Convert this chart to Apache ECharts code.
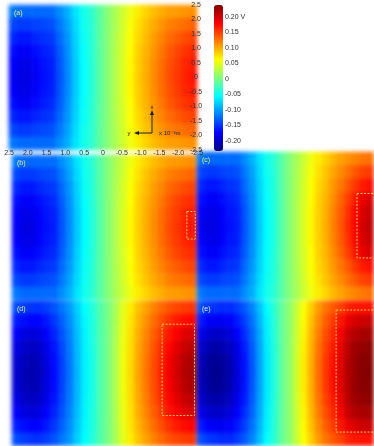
<!DOCTYPE html>
<html>
<head>
<meta charset="utf-8">
<script src="https://cdn.jsdelivr.net/npm/echarts@6/dist/echarts.min.js"></script>
<style>
  html, body { margin: 0; padding: 0; background: #fff; overflow: hidden; }
  .layer { position: absolute; left: 0; top: 0; width: 374px; height: 446px; }
  /* soften the cell edges of the potential maps */
  #field canvas { filter: blur(2.2px); }
</style>
</head>
<body>
<div id="field" class="layer"></div>
<div id="chart" class="layer"></div>
<script>
// potential (V), rows top -> bottom, 24 columns left -> right
const panelA = [
  [-0.118,-0.125,-0.125,-0.125,-0.124,-0.123,-0.108,-0.092,-0.068,-0.048,-0.035,-0.014,0.005,0.022,0.039,0.055,0.071,0.082,0.092,0.100,0.107,0.109,0.111,0.114],
  [-0.140,-0.147,-0.147,-0.143,-0.140,-0.136,-0.118,-0.098,-0.072,-0.050,-0.037,-0.014,0.005,0.023,0.041,0.059,0.076,0.089,0.101,0.111,0.121,0.126,0.130,0.134],
  [-0.155,-0.164,-0.164,-0.157,-0.151,-0.147,-0.125,-0.103,-0.076,-0.052,-0.038,-0.014,0.005,0.024,0.043,0.061,0.080,0.093,0.107,0.119,0.131,0.138,0.145,0.150],
  [-0.167,-0.176,-0.176,-0.168,-0.160,-0.154,-0.131,-0.107,-0.078,-0.054,-0.039,-0.015,0.005,0.025,0.044,0.063,0.083,0.097,0.111,0.125,0.139,0.148,0.156,0.161],
  [-0.175,-0.183,-0.183,-0.175,-0.165,-0.159,-0.134,-0.109,-0.080,-0.055,-0.040,-0.015,0.005,0.025,0.045,0.065,0.084,0.099,0.114,0.129,0.143,0.153,0.163,0.168],
  [-0.177,-0.186,-0.186,-0.177,-0.167,-0.160,-0.135,-0.110,-0.080,-0.055,-0.040,-0.015,0.005,0.025,0.045,0.065,0.085,0.100,0.115,0.130,0.145,0.155,0.165,0.172],
  [-0.175,-0.183,-0.183,-0.175,-0.165,-0.159,-0.134,-0.109,-0.080,-0.055,-0.040,-0.015,0.005,0.025,0.045,0.065,0.084,0.099,0.114,0.129,0.143,0.153,0.163,0.168],
  [-0.167,-0.176,-0.176,-0.168,-0.160,-0.154,-0.131,-0.107,-0.078,-0.054,-0.039,-0.015,0.005,0.025,0.044,0.063,0.083,0.097,0.111,0.125,0.139,0.148,0.156,0.161],
  [-0.155,-0.164,-0.164,-0.157,-0.151,-0.147,-0.125,-0.103,-0.076,-0.052,-0.038,-0.014,0.005,0.024,0.043,0.061,0.080,0.093,0.107,0.119,0.131,0.138,0.145,0.150],
  [-0.140,-0.147,-0.147,-0.143,-0.140,-0.136,-0.118,-0.098,-0.072,-0.050,-0.037,-0.014,0.005,0.023,0.041,0.059,0.076,0.089,0.101,0.111,0.121,0.126,0.130,0.134],
  [-0.118,-0.125,-0.125,-0.125,-0.124,-0.123,-0.108,-0.092,-0.068,-0.048,-0.035,-0.014,0.005,0.022,0.039,0.055,0.071,0.082,0.092,0.100,0.107,0.109,0.111,0.114]
];

// (b) reads the same as (a)
const panelB = panelA;

const panelC = [
  [-0.118,-0.125,-0.125,-0.125,-0.124,-0.123,-0.108,-0.092,-0.068,-0.048,-0.035,-0.014,0.005,0.022,0.039,0.055,0.071,0.082,0.095,0.105,0.113,0.120,0.125,0.128],
  [-0.140,-0.147,-0.147,-0.143,-0.140,-0.136,-0.118,-0.098,-0.072,-0.050,-0.037,-0.014,0.005,0.023,0.041,0.059,0.076,0.089,0.104,0.116,0.128,0.140,0.150,0.155],
  [-0.155,-0.164,-0.164,-0.157,-0.151,-0.147,-0.125,-0.103,-0.076,-0.052,-0.038,-0.014,0.005,0.024,0.043,0.061,0.080,0.093,0.110,0.125,0.140,0.155,0.168,0.175],
  [-0.167,-0.176,-0.176,-0.168,-0.160,-0.154,-0.131,-0.107,-0.078,-0.054,-0.039,-0.015,0.005,0.025,0.044,0.063,0.083,0.097,0.115,0.133,0.152,0.170,0.190,0.198],
  [-0.175,-0.183,-0.183,-0.175,-0.165,-0.159,-0.134,-0.109,-0.080,-0.055,-0.040,-0.015,0.005,0.025,0.045,0.065,0.084,0.099,0.119,0.138,0.158,0.178,0.198,0.207],
  [-0.177,-0.186,-0.186,-0.177,-0.167,-0.160,-0.135,-0.110,-0.080,-0.055,-0.040,-0.015,0.005,0.025,0.045,0.065,0.085,0.100,0.120,0.140,0.160,0.180,0.200,0.210],
  [-0.175,-0.183,-0.183,-0.175,-0.165,-0.159,-0.134,-0.109,-0.080,-0.055,-0.040,-0.015,0.005,0.025,0.045,0.065,0.084,0.099,0.119,0.138,0.158,0.178,0.198,0.207],
  [-0.167,-0.176,-0.176,-0.168,-0.160,-0.154,-0.131,-0.107,-0.078,-0.054,-0.039,-0.015,0.005,0.025,0.044,0.063,0.083,0.097,0.115,0.133,0.152,0.170,0.190,0.198],
  [-0.155,-0.164,-0.164,-0.157,-0.151,-0.147,-0.125,-0.103,-0.076,-0.052,-0.038,-0.014,0.005,0.024,0.043,0.061,0.080,0.093,0.110,0.125,0.140,0.155,0.168,0.175],
  [-0.140,-0.147,-0.147,-0.143,-0.140,-0.136,-0.118,-0.098,-0.072,-0.050,-0.037,-0.014,0.005,0.023,0.041,0.059,0.076,0.089,0.104,0.116,0.128,0.140,0.150,0.155],
  [-0.118,-0.125,-0.125,-0.125,-0.124,-0.123,-0.108,-0.092,-0.068,-0.048,-0.035,-0.014,0.005,0.022,0.039,0.055,0.071,0.082,0.095,0.105,0.113,0.120,0.125,0.128]
];

const panelD = [
  [-0.138,-0.146,-0.149,-0.151,-0.146,-0.135,-0.120,-0.103,-0.078,-0.055,-0.040,-0.018,0.000,0.022,0.049,0.070,0.090,0.105,0.120,0.132,0.142,0.148,0.153,0.156],
  [-0.160,-0.168,-0.172,-0.172,-0.163,-0.149,-0.129,-0.109,-0.083,-0.058,-0.042,-0.019,0.000,0.023,0.051,0.074,0.096,0.113,0.129,0.144,0.158,0.168,0.176,0.180],
  [-0.176,-0.185,-0.189,-0.187,-0.175,-0.158,-0.136,-0.114,-0.086,-0.060,-0.043,-0.019,0.000,0.024,0.053,0.076,0.100,0.118,0.136,0.153,0.170,0.182,0.194,0.198],
  [-0.186,-0.196,-0.201,-0.197,-0.183,-0.165,-0.141,-0.117,-0.088,-0.061,-0.044,-0.020,0.000,0.025,0.054,0.078,0.103,0.122,0.141,0.160,0.178,0.192,0.205,0.210],
  [-0.193,-0.203,-0.208,-0.203,-0.188,-0.169,-0.144,-0.119,-0.089,-0.062,-0.045,-0.020,0.000,0.025,0.055,0.079,0.104,0.124,0.144,0.163,0.183,0.198,0.213,0.218],
  [-0.195,-0.205,-0.210,-0.205,-0.190,-0.170,-0.145,-0.120,-0.090,-0.062,-0.045,-0.020,0.000,0.025,0.055,0.080,0.105,0.125,0.145,0.165,0.185,0.200,0.215,0.220],
  [-0.193,-0.203,-0.208,-0.203,-0.188,-0.169,-0.144,-0.119,-0.089,-0.062,-0.045,-0.020,0.000,0.025,0.055,0.079,0.104,0.124,0.144,0.163,0.183,0.198,0.213,0.218],
  [-0.186,-0.196,-0.201,-0.197,-0.183,-0.165,-0.141,-0.117,-0.088,-0.061,-0.044,-0.020,0.000,0.025,0.054,0.078,0.103,0.122,0.141,0.160,0.178,0.192,0.205,0.210],
  [-0.176,-0.185,-0.189,-0.187,-0.175,-0.158,-0.136,-0.114,-0.086,-0.060,-0.043,-0.019,0.000,0.024,0.053,0.076,0.100,0.118,0.136,0.153,0.170,0.182,0.194,0.198],
  [-0.160,-0.168,-0.172,-0.172,-0.163,-0.149,-0.129,-0.109,-0.083,-0.058,-0.042,-0.019,0.000,0.023,0.051,0.074,0.096,0.113,0.129,0.144,0.158,0.168,0.176,0.180],
  [-0.138,-0.146,-0.149,-0.151,-0.146,-0.135,-0.120,-0.103,-0.078,-0.055,-0.040,-0.018,0.000,0.022,0.049,0.070,0.090,0.105,0.120,0.132,0.142,0.148,0.153,0.156]
];

const panelE = [
  [-0.137,-0.147,-0.151,-0.155,-0.155,-0.146,-0.132,-0.113,-0.085,-0.056,-0.035,-0.009,0.009,0.035,0.061,0.085,0.109,0.127,0.140,0.150,0.165,0.170,0.172,0.173],
  [-0.162,-0.174,-0.178,-0.178,-0.175,-0.162,-0.144,-0.121,-0.091,-0.060,-0.037,-0.009,0.009,0.037,0.064,0.091,0.116,0.137,0.153,0.170,0.190,0.198,0.203,0.205],
  [-0.180,-0.194,-0.198,-0.196,-0.190,-0.174,-0.153,-0.127,-0.095,-0.062,-0.038,-0.010,0.010,0.038,0.067,0.095,0.122,0.145,0.162,0.182,0.205,0.215,0.220,0.222],
  [-0.194,-0.208,-0.213,-0.209,-0.201,-0.183,-0.160,-0.131,-0.098,-0.064,-0.039,-0.010,0.010,0.039,0.069,0.098,0.127,0.150,0.169,0.190,0.212,0.225,0.230,0.232],
  [-0.202,-0.217,-0.222,-0.218,-0.208,-0.188,-0.164,-0.134,-0.099,-0.065,-0.040,-0.010,0.010,0.040,0.070,0.099,0.129,0.154,0.173,0.194,0.214,0.228,0.234,0.236],
  [-0.205,-0.220,-0.225,-0.220,-0.210,-0.190,-0.165,-0.135,-0.100,-0.065,-0.040,-0.010,0.010,0.040,0.070,0.100,0.130,0.155,0.175,0.195,0.215,0.228,0.235,0.238],
  [-0.202,-0.217,-0.222,-0.218,-0.208,-0.188,-0.164,-0.134,-0.099,-0.065,-0.040,-0.010,0.010,0.040,0.070,0.099,0.129,0.154,0.173,0.194,0.214,0.228,0.234,0.236],
  [-0.194,-0.208,-0.213,-0.209,-0.201,-0.183,-0.160,-0.131,-0.098,-0.064,-0.039,-0.010,0.010,0.039,0.069,0.098,0.127,0.150,0.169,0.190,0.212,0.225,0.230,0.232],
  [-0.180,-0.194,-0.198,-0.196,-0.190,-0.174,-0.153,-0.127,-0.095,-0.062,-0.038,-0.010,0.010,0.038,0.067,0.095,0.122,0.145,0.162,0.182,0.205,0.215,0.220,0.222],
  [-0.162,-0.174,-0.178,-0.178,-0.175,-0.162,-0.144,-0.121,-0.091,-0.060,-0.037,-0.009,0.009,0.037,0.064,0.091,0.116,0.137,0.153,0.170,0.190,0.198,0.203,0.205],
  [-0.137,-0.147,-0.151,-0.155,-0.155,-0.146,-0.132,-0.113,-0.085,-0.056,-0.035,-0.009,0.009,0.035,0.061,0.085,0.109,0.127,0.140,0.150,0.165,0.170,0.172,0.173]
];

const fields = [panelA, panelB, panelC, panelD, panelE];
const panelNames = ['(a)', '(b)', '(c)', '(d)', '(e)'];

// dashed boxes in position units (x1, x2, yTop, yBottom), x axis runs 2.5 -> -2.5
const boxes = [null, [-2.25, -2.48, 0.55, -0.4], [-2.02, -2.6, 1.1, -1.08], [-1.58, -2.46, 1.7, -1.45], [-1.43, -2.6, 2.19, -2.02]];

const posTicks = [2.5, 2.0, 1.5, 1.0, 0.5, 0, -0.5, -1.0, -1.5, -2.0, -2.5];
const cbTicks = [0.20, 0.15, 0.10, 0.05, 0, -0.05, -0.10, -0.15, -0.20];
const cbMin = -0.232, cbMax = 0.239;

// panel boxes in px: left, top, width, height
const layout = [
  [9, 5, 188, 145],
  [12, 155, 184, 145],
  [197, 152, 177, 148],
  [12, 301, 184, 145],
  [197, 301, 177, 145]
];

const jet = ['#00007f', '#0000ff', '#007fff', '#00ffff', '#7fff7f', '#ffff00', '#ff7f00', '#ff0000', '#7f0000'];
const font = 'Liberation Sans, DejaVu Sans, sans-serif';

const cols = Array.from({ length: 24 }, (_, i) => i);
const rows = Array.from({ length: 11 }, (_, j) => j);

function cells(field) {
  const out = [];
  field.forEach((row, j) => row.forEach((v, i) => out.push([i, j, v])));
  return out;
}

function hasTick(list, v) {
  return list.some(t => Math.abs(t - v) < 1e-6);
}

function posLabel(v) {
  if (!hasTick(posTicks, v)) return '';
  return Math.abs(v) < 1e-9 ? '0' : v.toFixed(1);
}

// ---- bottom layer: the potential maps ----
const field = echarts.init(document.getElementById('field'));
field.setOption({
  animation: false,
  grid: layout.map(p => ({ left: p[0], top: p[1], width: p[2], height: p[3], containLabel: false, outerBoundsMode: 'none' })),
  xAxis: layout.map((p, k) => ({ type: 'category', gridIndex: k, data: cols, show: false })),
  yAxis: layout.map((p, k) => ({ type: 'category', gridIndex: k, data: rows, inverse: true, show: false })),
  visualMap: {
    type: 'continuous', show: false, dimension: 2,
    min: cbMin, max: cbMax,
    inRange: { color: jet }
  },
  series: fields.map((f, k) => ({
    type: 'heatmap', xAxisIndex: k, yAxisIndex: k,
    data: cells(f),
    progressive: 0,
    emphasis: { disabled: true },
    itemStyle: { borderWidth: 0 }
  }))
});

// ---- top layer: axes, boxes, colour bar, labels ----
const chart = echarts.init(document.getElementById('chart'));

const grid = [], xAxis = [], yAxis = [], series = [];

layout.forEach((p, k) => {
  const showAx = k === 0;
  grid.push({ left: p[0], top: p[1], width: p[2], height: p[3], containLabel: false, outerBoundsMode: 'none' });
  xAxis.push({
    type: 'value', gridIndex: k, min: -2.5, max: 2.5, interval: 0.5, inverse: true,
    position: 'bottom', show: showAx,
    axisLine: { show: false }, axisTick: { show: false }, splitLine: { show: false },
    axisLabel: { fontSize: 7, fontFamily: font, color: '#333', margin: 3, verticalAlign: 'middle', formatter: posLabel }
  });
  yAxis.push({
    type: 'value', gridIndex: k, min: -2.5, max: 2.5, interval: 0.5,
    position: 'right', show: showAx,
    axisLine: { show: false }, axisTick: { show: false }, splitLine: { show: false },
    axisLabel: { fontSize: 7, fontFamily: font, color: '#333', margin: -1, align: 'center', formatter: posLabel }
  });
  if (boxes[k]) {
    const b = boxes[k];
    series.push({
      type: 'line', xAxisIndex: k, yAxisIndex: k,
      data: [[b[0], b[2]], [b[1], b[2]], [b[1], b[3]], [b[0], b[3]], [b[0], b[2]]],
      symbol: 'none', silent: true, clip: true,
      lineStyle: { color: '#f4c44e', width: 1, type: [2, 1.5] }
    });
  }
});

// colour bar labels
grid.push({ left: 214, top: 1.5, width: 9, height: 155, containLabel: false, outerBoundsMode: 'none' });
xAxis.push({ type: 'value', gridIndex: 5, show: false });
yAxis.push({
  type: 'value', gridIndex: 5, min: -0.25, max: 0.25, interval: 0.05, position: 'right',
  axisLine: { show: false }, axisTick: { show: false }, splitLine: { show: false },
  axisLabel: {
    fontSize: 7, fontFamily: font, color: '#333', margin: 2,
    formatter: v => {
      if (!hasTick(cbTicks, v)) return '';
      if (Math.abs(v) < 1e-9) return '0';
      return v.toFixed(2) + (Math.abs(v - 0.2) < 1e-6 ? ' V' : '');
    }
  }
});

const graphic = panelNames.map((t, k) => ({
  type: 'text', left: layout[k][0] + 5, top: layout[k][1] + 5, silent: true,
  style: { text: t, fontSize: 7, fontFamily: font, fill: k === 4 ? '#e4e4e4' : '#e2ef86' }
}));

// axis glyph in (a)
graphic.push(
  { type: 'line', shape: { x1: 152, y1: 133, x2: 152, y2: 113 }, style: { stroke: '#222', lineWidth: 1 }, silent: true },
  { type: 'polygon', shape: { points: [[152, 110], [150, 115], [154, 115]] }, style: { fill: '#222' }, silent: true },
  { type: 'line', shape: { x1: 152, y1: 133, x2: 137, y2: 133 }, style: { stroke: '#222', lineWidth: 1 }, silent: true },
  { type: 'polygon', shape: { points: [[134, 133], [139, 131], [139, 135]] }, style: { fill: '#222' }, silent: true },
  { type: 'text', x: 152, y: 107, silent: true, style: { text: 'x', fontSize: 6, fontFamily: font, fill: '#222', align: 'center', verticalAlign: 'middle' } },
  { type: 'text', x: 129, y: 133, silent: true, style: { text: 'y', fontSize: 6, fontFamily: font, fill: '#222', align: 'center', verticalAlign: 'middle' } },
  { type: 'text', x: 159, y: 133, silent: true, style: { text: 'x 10\u207B\u00B3m', fontSize: 6, fontFamily: font, fill: '#222', align: 'left', verticalAlign: 'middle' } }
);

chart.setOption({
  animation: false,
  grid, xAxis, yAxis, series, graphic,
  visualMap: {
    type: 'continuous',
    seriesIndex: [],
    min: cbMin, max: cbMax,
    calculable: false,
    hoverLink: false,
    orient: 'vertical',
    left: 214, top: 5,
    itemWidth: 9, itemHeight: 146,
    padding: 0,
    text: null,
    inRange: { color: jet }
  }
});
</script>
</body>
</html>
